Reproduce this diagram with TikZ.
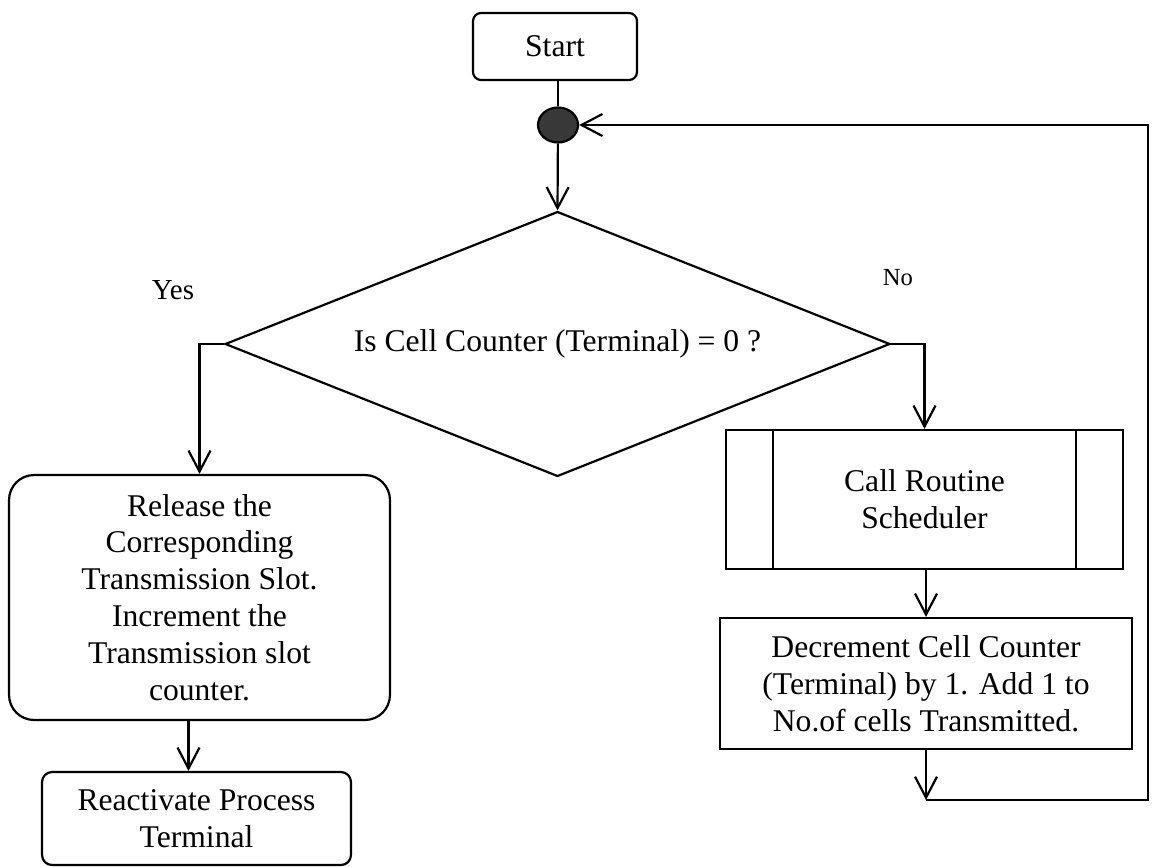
\documentclass[tikz,border=0pt]{standalone}
\usepackage{fontspec}
\setmainfont{Liberation Serif}
\usetikzlibrary{arrows.meta,shapes.geometric,calc}

\begin{document}
\begin{tikzpicture}[x=0.02cm,y=-0.02cm,
  line width=1.25pt,
  txt/.style={font=\fontsize{18}{21}\selectfont, align=center},
  boxbase/.style={txt, draw, inner sep=0pt},
  arr/.style={-{Straight Barb[length=0.42cm,width=0.44cm,line width=1.25pt]}},
]
\useasboundingbox (0,0) rectangle (1155,866);

% terminal / process boxes
\node[boxbase, rounded corners=0.16cm, minimum width=3.28cm, minimum height=1.34cm]
  (start) at (555,46.5) {Start};
\node[draw, fill=black!78, ellipse, inner sep=0pt, minimum width=0.8cm, minimum height=0.7cm]
  (junction) at (558,125) {};
\node[boxbase, diamond, aspect=2.5, minimum width=13.3cm, minimum height=5.3cm]
  (decision) at (557.5,344) {Is Cell Counter (Terminal) = 0 ?};

\node[boxbase, rounded corners=0.5cm, minimum width=7.62cm, minimum height=4.9cm]
  (release) at (199.5,597.5)
  {Release the\\Corresponding\\Transmission Slot.\\Increment the\\Transmission slot\\counter.};
\node[boxbase, rounded corners=0.2cm, minimum width=6.18cm, minimum height=1.86cm]
  (reactivate) at (196.5,818.5) {Reactivate Process\\Terminal};

\node[boxbase, minimum width=7.94cm, minimum height=2.78cm]
  (sched) at (924.5,499.5) {Call Routine\\Scheduler};
\draw ([xshift=0.96cm]sched.north west) -- ([xshift=0.96cm]sched.south west);
\draw ([xshift=-0.96cm]sched.north east) -- ([xshift=-0.96cm]sched.south east);

\node[boxbase, minimum width=8.24cm, minimum height=2.62cm]
  (decr) at (926,683.5)
  {Decrement Cell Counter\\(Terminal) by 1. Add 1 to\\No.of cells Transmitted.};

% branch labels
\node[font=\fontsize{16.5}{18}\selectfont] (yes) at (173,290) {Yes};
\node[font=\fontsize{14}{16}\selectfont] (no) at (898,278) {No};

% connectors
\draw (start.south -| junction) -- (junction);
\draw[arr] (junction) -- (decision.north);
\draw[arr] (decision.west) -| (release.north);
\draw[arr] ($(release.south -| reactivate.north)+(-8,0)$) -- ($(reactivate.north)+(-8,0)$);
\draw[arr] (decision.east) -| (sched.north);
\draw[arr] (sched.south -| decr.north) -- (decr.north);

\coordinate (loopdown) at (926,800);
\coordinate (loopright) at (1148,800);
\draw[arr] (decr.south) -- (loopdown);
\draw[arr] (loopdown) -- (loopright) |- (junction.east);
\end{tikzpicture}
\end{document}
